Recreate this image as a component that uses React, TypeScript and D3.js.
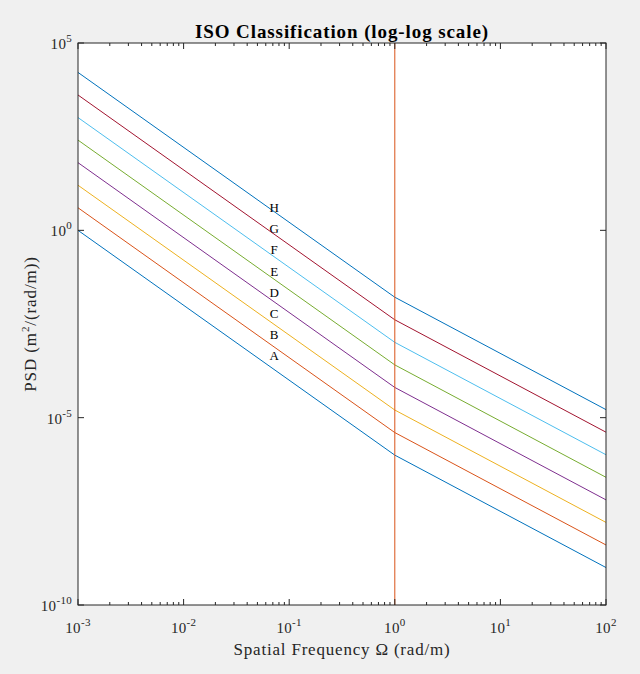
import React from "react";
import * as d3 from "d3";

// ---- data ----
const classes = ["A", "B", "C", "D", "E", "F", "G", "H"];
const freqs = [1e-3, 1, 100]; // rad/m, break-points of the piecewise power law
const psdAt1e3 = [1, 4, 16, 64, 256, 1024, 4096, 16384];
const psdAt1 = [1e-6, 4e-6, 1.6e-5, 6.4e-5, 2.56e-4, 1.024e-3, 4.096e-3, 1.6384e-2];
const psdAt100 = [1e-9, 4e-9, 1.6e-8, 6.4e-8, 2.56e-7, 1.024e-6, 4.096e-6, 1.6384e-5];
const labelFreq = 0.072;
const labelPsd = [4.5e-4, 1.65e-3, 6.0e-3, 2.2e-2, 8.1e-2, 0.3, 1.09, 4.0];
const refFreq = 1;
const xTickExps = [-3, -2, -1, 0, 1, 2];
const yTickExps = [-10, -5, 0, 5];
const colors = ["#0072BD", "#D95319", "#EDB120", "#7E2F8E", "#77AC30", "#4DBEEE", "#A2142F", "#0072BD"];

const W = 640, H = 674;
const m = { left: 78, right: 606, top: 43, bottom: 605 };
const FONT = "'Liberation Serif', 'Times New Roman', serif";
const AX = "#262626";

export default function App() {
  const x = d3.scaleLog().domain([1e-3, 1e2]).range([m.left, m.right]);
  const y = d3.scaleLog().domain([1e-10, 1e5]).range([m.bottom, m.top]);
  const line = d3.line<[number, number]>().x(d => x(d[0])).y(d => y(d[1]));

  const series = classes.map((c, i) => ({
    name: c,
    pts: freqs.map((f, j) => [f, [psdAt1e3, psdAt1, psdAt100][j][i]] as [number, number]),
  }));

  const minorX: number[] = [];
  for (let e = -3; e < 2; e++) for (let k = 2; k <= 9; k++) minorX.push(k * Math.pow(10, e));

  return (
    <svg width={W} height={H} style={{ position: "absolute", left: 0, top: 0 }} fontFamily={FONT}>
      <rect x={0} y={0} width={W} height={H} fill="#f0f0f0" />
      <rect x={m.left} y={m.top} width={m.right - m.left} height={m.bottom - m.top} fill="#ffffff" />
      <defs>
        <clipPath id="plot">
          <rect x={m.left} y={m.top} width={m.right - m.left} height={m.bottom - m.top} />
        </clipPath>
      </defs>
      <g clipPath="url(#plot)">
        {series.map((s, i) => (
          <path key={s.name} d={line(s.pts) || ""} fill="none" stroke={colors[i]} strokeWidth={1} />
        ))}
        <line x1={x(refFreq)} x2={x(refFreq)} y1={m.top} y2={m.bottom} stroke="#D95319" strokeWidth={1} />
      </g>
      {classes.map((c, i) => (
        <text key={c} x={x(labelFreq)} y={y(labelPsd[i])} dy="0.35em" textAnchor="middle" fontSize={13} fill="#000">
          {c}
        </text>
      ))}
      {/* axes box */}
      <rect x={m.left} y={m.top} width={m.right - m.left} height={m.bottom - m.top} fill="none" stroke={AX} strokeWidth={1} />
      {/* x ticks */}
      {xTickExps.map(e => {
        const px = x(Math.pow(10, e));
        return (
          <g key={"xt" + e}>
            <line x1={px} x2={px} y1={m.bottom} y2={m.bottom - 6} stroke={AX} />
            <line x1={px} x2={px} y1={m.top} y2={m.top + 6} stroke={AX} />
            <text x={px} y={633} textAnchor="middle" fontSize={15} fill={AX} letterSpacing={0.3}>
              <tspan>10</tspan>
              <tspan dy={-7} fontSize={11}>{e}</tspan>
            </text>
          </g>
        );
      })}
      {minorX.map((v, k) => {
        const px = x(v);
        return (
          <g key={"xm" + k}>
            <line x1={px} x2={px} y1={m.bottom} y2={m.bottom - 3} stroke={AX} />
            <line x1={px} x2={px} y1={m.top} y2={m.top + 3} stroke={AX} />
          </g>
        );
      })}
      {/* y ticks */}
      {yTickExps.map(e => {
        const py = y(Math.pow(10, e));
        return (
          <g key={"yt" + e}>
            <line x1={m.left} x2={m.left + 6} y1={py} y2={py} stroke={AX} />
            <line x1={m.right} x2={m.right - 6} y1={py} y2={py} stroke={AX} />
            <text x={72} y={py + 6} textAnchor="end" fontSize={15} fill={AX} letterSpacing={0.3}>
              <tspan>10</tspan>
              <tspan dy={-7} fontSize={11}>{e}</tspan>
            </text>
          </g>
        );
      })}
      {/* labels */}
      <text x={(m.left + m.right) / 2} y={38} textAnchor="middle" fontSize={19} fontWeight="bold" fill="#000" letterSpacing={0.9}>
        ISO Classification (log-log scale)
      </text>
      <text x={(m.left + m.right) / 2} y={655} textAnchor="middle" fontSize={17} fill={AX} letterSpacing={0.8}>
        Spatial Frequency Ω (rad/m)
      </text>
      <text transform={`translate(36,${(m.top + m.bottom) / 2}) rotate(-90)`} textAnchor="middle" fontSize={17} fill={AX} letterSpacing={0.9}>
        <tspan>PSD (m</tspan>
        <tspan dy={-7} fontSize={11}>2</tspan>
        <tspan dy={7}>/(rad/m))</tspan>
      </text>
    </svg>
  );
}
